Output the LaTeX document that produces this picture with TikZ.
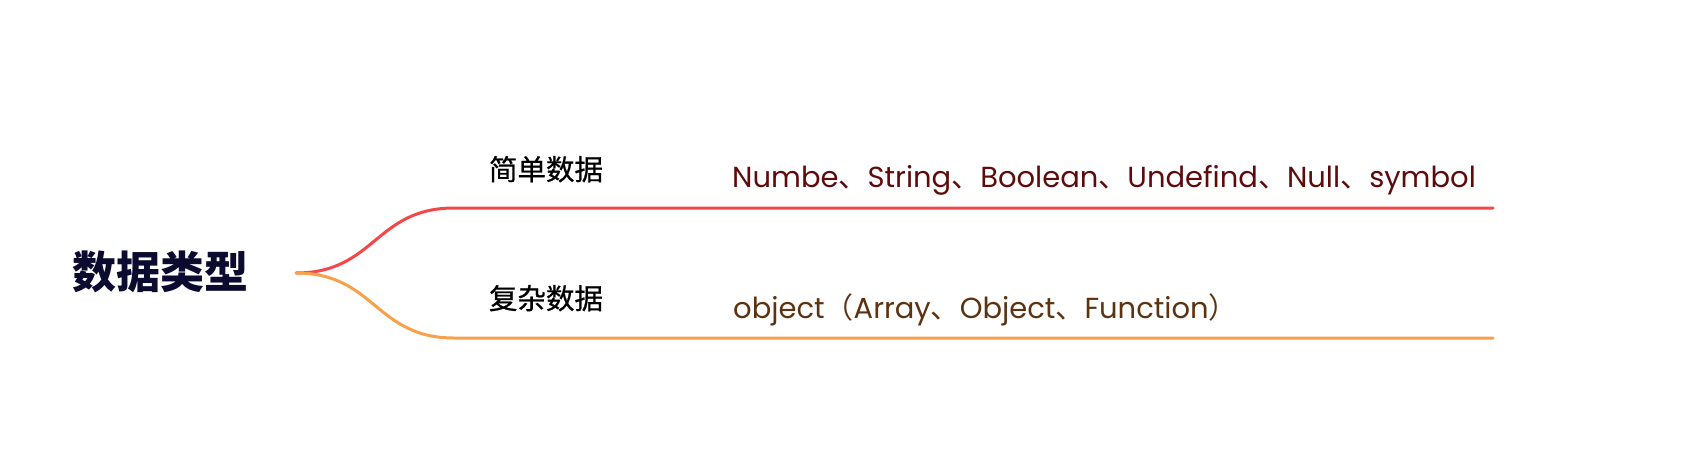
\documentclass[tikz,border=0pt]{standalone}
\usepackage{fontspec}
\newfontfamily\cjk{Noto Sans CJK SC}
\newfontfamily\cjkm{Noto Sans CJK SC}[FakeBold=0.7]
\newfontfamily\lat{Poppins}
\definecolor{rootc}{HTML}{0B0B30}
\definecolor{redl}{HTML}{F5474A}
\definecolor{orgl}{HTML}{F9A04B}
\definecolor{redt}{HTML}{5E0B0B}
\definecolor{brnt}{HTML}{5C3310}
\tikzset{
  rootnode/.style={inner sep=0pt, anchor=center, text=rootc, font=\cjk\bfseries\fontsize{44}{48}\selectfont},
  labnode/.style={inner sep=0pt, anchor=base, text=black, font=\cjkm\fontsize{28.5}{30}\selectfont},
  valnode/.style={inner sep=0pt, anchor=base west, font=\lat\fontsize{29}{32}\selectfont},
  branch/.style={line width=3pt, line cap=round},
}
\begin{document}
\begin{tikzpicture}[x=1pt,y=-1pt]
\useasboundingbox (0,0) rectangle (1694,450);
\node[rootnode] (root) at (160,272) {数据类型};
\coordinate (start) at (296,273);
% simple
\node[labnode] (l1) at (546,180) {简单数据};
\node[valnode, text=redt] (v1) at (732,187) {Numbe{\cjk 、}String{\cjk 、}Boolean{\cjk 、}Undefind{\cjk 、}Null{\cjk 、}symbol};
\coordinate (a1) at (454,208);
\coordinate (e1) at (1493,208);
\draw[branch, redl] (start) .. controls (375,273) and (375,208) .. (a1) -- (e1);
% complex
\node[labnode] (l2) at (546,309) {复杂数据};
\node[valnode, text=brnt] (v2) at (733,318) {object{\cjk （}Array{\cjk 、}Object{\cjk 、}Function{\cjk ）}};
\coordinate (a2) at (454,338);
\coordinate (e2) at (1493,338);
\draw[branch, orgl] (start) .. controls (375,273) and (375,338) .. (a2) -- (e2);
\end{tikzpicture}
\end{document}
